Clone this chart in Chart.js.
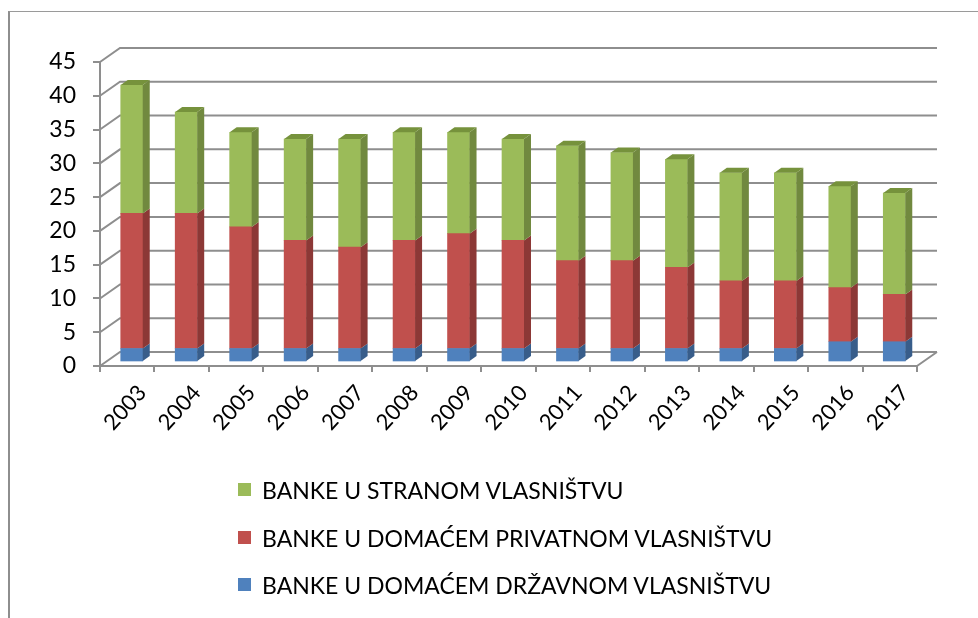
<!DOCTYPE html>
<html lang="hr">
<head>
<meta charset="UTF-8">
<title>Banke po vlasništvu</title>
<script src="https://cdn.jsdelivr.net/npm/chart.js"></script>
<style>
  body { margin: 0; background: #fff; }
  #wrap { position: relative; width: 978px; height: 618px; }
  #frame { position: absolute; left: 8px; top: 11px; right: 0; bottom: 0;
           border-left: 2px solid #8e8e8e; border-top: 1px solid #9a9a9a; pointer-events: none; }
  #legend { position: absolute; left: 238px; top: 476px; font-family: Lato, sans-serif; font-size: 23px; color: #000; }
  #legend div { height: 47.5px; display: flex; align-items: flex-start; }
  #legend span.box { display: inline-block; width: 13px; height: 13px; margin: 7px 11px 0 0; }
</style>
</head>
<body>
<div id="wrap">
  <canvas id="myChart" width="978" height="618"></canvas>
  <div id="frame"></div>
  <div id="legend"></div>
</div>
<script>
// data
const years = ['2003', '2004', '2005', '2006', '2007', '2008', '2009', '2010', '2011', '2012', '2013', '2014', '2015', '2016', '2017'];
const stateBanks = [2, 2, 2, 2, 2, 2, 2, 2, 2, 2, 2, 2, 2, 3, 3];
const privateBanks = [20, 20, 18, 16, 15, 16, 17, 16, 13, 13, 12, 10, 10, 8, 7];
const foreignBanks = [19, 15, 14, 15, 16, 16, 15, 15, 17, 16, 16, 16, 16, 15, 15];
const yMax = 45;
const yStep = 5;

const gridColor = '#8e8e8e';
const sideColors = ['#385d8a', '#8c3836', '#71893f'];
const topColors = ['#4a74a8', '#a64643', '#76923c'];

// fake 3D: back wall, bar shift and bar depth
const wall = { dx: 20, dy: -14 };
const shift = { dx: 4.5, dy: -4 };
const depth = { dx: 7, dy: -5 };

const threeD = {
    id: 'threeD',
    beforeDatasetsDraw(chart) {
        const ctx = chart.ctx;
        const area = chart.chartArea;
        const y = chart.scales.y;
        ctx.save();
        ctx.strokeStyle = gridColor;
        ctx.lineWidth = 2;
        ctx.beginPath();
        y.ticks.forEach(t => {
            const py = y.getPixelForValue(t.value);
            ctx.moveTo(area.left, py);
            ctx.lineTo(area.left + wall.dx, py + wall.dy);
            ctx.lineTo(area.right + wall.dx, py + wall.dy);
        });
        ctx.moveTo(area.right, area.bottom);
        ctx.lineTo(area.right + wall.dx, area.bottom + wall.dy);
        ctx.stroke();
        ctx.restore();

        ctx.save();
        ctx.translate(shift.dx, shift.dy);
    },
    afterDatasetsDraw(chart) {
        const ctx = chart.ctx;
        const last = chart.data.datasets.length - 1;
        chart.data.datasets.forEach((ds, i) => {
            chart.getDatasetMeta(i).data.forEach(bar => {
                const p = bar.getProps(['x', 'y', 'base', 'width'], true);
                const l = p.x - p.width / 2;
                const r = p.x + p.width / 2;
                const top = Math.min(p.y, p.base);
                const bot = Math.max(p.y, p.base);
                ctx.fillStyle = sideColors[i];
                ctx.beginPath();
                ctx.moveTo(r, bot);
                ctx.lineTo(r + depth.dx, bot + depth.dy);
                ctx.lineTo(r + depth.dx, top + depth.dy);
                ctx.lineTo(r, top);
                ctx.closePath();
                ctx.fill();
                if (i === last) {
                    ctx.fillStyle = topColors[i];
                    ctx.beginPath();
                    ctx.moveTo(l, top);
                    ctx.lineTo(l + depth.dx, top + depth.dy);
                    ctx.lineTo(r + depth.dx, top + depth.dy);
                    ctx.lineTo(r, top);
                    ctx.closePath();
                    ctx.fill();
                }
            });
        });
        ctx.restore();
    }
};

const ctx = document.getElementById('myChart').getContext('2d');
const myChart = new Chart(ctx, {
    type: 'bar',
    data: {
        labels: years,
        datasets: [
            { label: 'BANKE U DOMAĆEM DRŽAVNOM VLASNIŠTVU', data: stateBanks, backgroundColor: '#4f81bd' },
            { label: 'BANKE U DOMAĆEM PRIVATNOM VLASNIŠTVU', data: privateBanks, backgroundColor: '#c0504d' },
            { label: 'BANKE U STRANOM VLASNIŠTVU', data: foreignBanks, backgroundColor: '#9bbb59' }
        ]
    },
    options: {
        responsive: false,
        animation: false,
        devicePixelRatio: 1,
        layout: { padding: { left: 0, top: 62, right: 61, bottom: 162 } },
        datasets: { bar: { barThickness: 22, clip: false } },
        plugins: { legend: { display: false }, tooltip: { enabled: false } },
        scales: {
            x: {
                stacked: true,
                afterFit: s => { s.height = 90; },
                grid: { offset: true, drawOnChartArea: false, tickLength: 6, color: gridColor, lineWidth: 2 },
                border: { color: gridColor, width: 2 },
                ticks: { color: '#000', font: { family: 'Lato', size: 22 }, minRotation: 48, maxRotation: 48, padding: 8, labelOffset: 15 }
            },
            y: {
                stacked: true,
                min: 0,
                max: yMax,
                afterFit: s => { s.width = 100; },
                grid: { drawOnChartArea: false, tickLength: 7, color: gridColor, lineWidth: 2 },
                border: { color: gridColor, width: 2 },
                ticks: { stepSize: yStep, color: '#000', font: { family: 'Lato', size: 23 }, padding: 17 }
            }
        }
    },
    plugins: [threeD]
});

// vertical legend, same order as the picture (top series first)
const legend = document.getElementById('legend');
myChart.data.datasets.slice().reverse().forEach(ds => {
    const row = document.createElement('div');
    row.innerHTML = '<span class="box" style="background:' + ds.backgroundColor + '"></span>' + ds.label;
    legend.appendChild(row);
});
</script>
</body>
</html>
